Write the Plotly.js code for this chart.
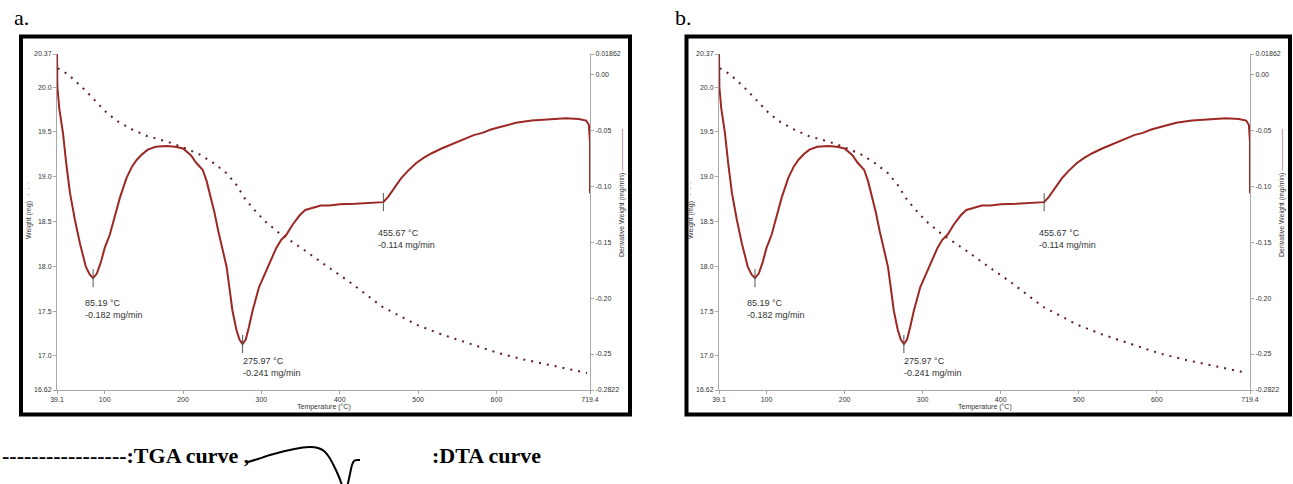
<!DOCTYPE html>
<html><head><meta charset="utf-8">
<script src="https://cdn.plot.ly/plotly-3.0.1.min.js"></script>
<style>body{margin:0;background:#fff}#chart{width:1293px;height:484px}</style>
</head><body><div id="chart"></div>
<script>
// ---- data ----
const tgaTemp   = [40, 47, 56, 70, 80, 90, 103, 118, 134.6, 153.8, 180.5, 199.6, 221, 237.8, 255.6, 268, 278.6, 291, 305, 323, 340, 355, 387, 412, 454, 497.7, 530, 561, 603, 635, 667, 690, 715.6];
const tgaWeight = [20.21, 20.18, 20.12, 20.01, 19.92, 19.83, 19.71, 19.61, 19.53, 19.455, 19.39, 19.33, 19.25, 19.16, 19.04, 18.91, 18.76, 18.63, 18.50, 18.37, 18.27, 18.18, 17.98, 17.83, 17.55, 17.35, 17.24, 17.15, 17.03, 16.96, 16.90, 16.86, 16.81];

const dtaTemp  = [39.1, 39.6, 42, 46.7, 51, 55.7, 62, 68.4, 76, 81, 85.19, 90, 95, 100, 106.6, 113, 119.4, 128, 135, 141, 148, 155, 165, 179, 190, 200, 210, 217, 225, 230, 235, 240, 245, 250, 255.6, 260, 263, 268, 272, 275.97, 280, 284, 288.8, 297, 306.6, 312, 319, 325, 332, 340, 348.6, 356, 365, 376, 386.9, 400, 420, 434, 445, 455.67, 462, 470, 478, 487, 497.7, 508, 518, 530, 539.7, 550, 561, 571, 582, 593, 603.4, 615, 625, 645, 665, 688.8, 705, 714.5, 718, 719.4, 719.4];
const dtaDeriv = [0.0186, -0.011, -0.03, -0.052, -0.08, -0.106, -0.13, -0.151, -0.172, -0.179, -0.182, -0.178, -0.168, -0.155, -0.143, -0.127, -0.110, -0.092, -0.082, -0.076, -0.071, -0.067, -0.0645, -0.0637, -0.0645, -0.066, -0.072, -0.079, -0.085, -0.095, -0.108, -0.123, -0.140, -0.156, -0.172, -0.195, -0.211, -0.228, -0.237, -0.241, -0.237, -0.226, -0.211, -0.19, -0.175, -0.165, -0.155, -0.148, -0.143, -0.134, -0.126, -0.121, -0.119, -0.117, -0.117, -0.116, -0.1155, -0.115, -0.115, -0.114, -0.109, -0.101, -0.093, -0.086, -0.079, -0.074, -0.070, -0.066, -0.063, -0.060, -0.057, -0.054, -0.052, -0.049, -0.047, -0.045, -0.043, -0.041, -0.040, -0.039, -0.0395, -0.041, -0.045, -0.06, -0.106];

const peakTemp   = [85.19, 275.97, 455.67];
const peakDeriv  = [-0.182, -0.241, -0.114];
const peakLabels = ['85.19 °C<br>-0.182 mg/min', '275.97 °C<br>-0.241 mg/min', '455.67 °C<br>-0.114 mg/min'];

const xTickVals = [39.1, 100, 200, 300, 400, 500, 600, 719.4];
const xTickText = ['39.1', '100', '200', '300', '400', '500', '600', '719.4'];
const wTickVals = [16.62, 17.0, 17.5, 18.0, 18.5, 19.0, 19.5, 20.0, 20.37];
const wTickText = ['16.62', '17.0', '17.5', '18.0', '18.5', '19.0', '19.5', '20.0', '20.37'];
const dTickVals = [-0.2822, -0.25, -0.20, -0.15, -0.10, -0.05, 0.00, 0.01862];
const dTickText = ['-0.2822', '-0.25', '-0.20', '-0.15', '-0.10', '-0.05', '0.00', '0.01862'];

const panelLabels = ['a.', 'b.'];
const xTitle = 'Temperature (°C)';
const wTitle = 'Weight (mg)';
const dTitle = 'Derivative Weight (mg/min)';
const legendTGA = '-----------------:TGA curve ,';
const legendDTA = ':DTA curve';
// hand-drawn legend glyph (in its own small box, pixel-like units)
const legendCurveX = [248, 258, 270, 285, 300, 310, 318, 324, 329, 334, 339, 343, null, 347, 350, 352, 354, 357, 360];
const legendCurveY = [462, 459, 455, 451, 448, 447, 448, 451, 457, 466, 477, 488, null, 488, 474, 465, 461, 460, 460];

// ---- layout helpers ----
const W = 1293, H = 484;
const px = v => v / W;
const py = v => 1 - v / H;
const panels = [
  {left: 57, right: 590, fx0: 21, fx1: 630, x: 'x', y: 'y', y2: 'y2', xa: 'xaxis', ya: 'yaxis', ya2: 'yaxis2', lab: 12},
  {left: 719, right: 1250, fx0: 686.5, fx1: 1290, x: 'x2', y: 'y3', y2: 'y4', xa: 'xaxis2', ya: 'yaxis3', ya2: 'yaxis4', lab: 673}
];
const plotTop = 54, plotBottom = 390;
const tgaColor = '#5e1f1f', dtaColor = '#9c2824';
const tickFont = {family: 'Liberation Sans, Arial, sans-serif', size: 7, color: '#333'};
const labelOffsets = [[-10, -18], [-2, -10], [-7, -24]];

const axisBase = {
  showline: true, linecolor: '#a8a8a8', linewidth: 1, ticks: 'outside', ticklen: 3,
  tickcolor: '#a8a8a8', tickwidth: 1, tickfont: tickFont, showgrid: false, zeroline: false,
  tickmode: 'array', fixedrange: true
};

const traces = [];
const layout = {
  width: W, height: H, margin: {l: 0, r: 0, t: 0, b: 0},
  paper_bgcolor: '#fff', plot_bgcolor: 'rgba(0,0,0,0)', showlegend: false,
  shapes: [], annotations: []
};

panels.forEach((p, k) => {
  traces.push({x: tgaTemp, y: tgaWeight, xaxis: p.x, yaxis: p.y, mode: 'lines', type: 'scatter',
    line: {color: tgaColor, width: 2, dash: '2px,6px'}, hoverinfo: 'skip'});
  traces.push({x: dtaTemp, y: dtaDeriv, xaxis: p.x, yaxis: p.y2, mode: 'lines', type: 'scatter',
    line: {color: dtaColor, width: 2}, hoverinfo: 'skip'});
  traces.push({x: peakTemp, y: peakDeriv, xaxis: p.x, yaxis: p.y2, mode: 'markers', type: 'scatter',
    marker: {symbol: 'line-ns-open', size: 13, color: '#555', line: {color: '#555', width: 1}}, hoverinfo: 'skip'});

  const dom = [px(p.left), px(p.right)];
  const ydom = [py(plotBottom), py(plotTop)];
  layout[p.xa] = Object.assign({}, axisBase, {domain: dom, anchor: p.y, range: [39.1, 719.4],
    tickvals: xTickVals, ticktext: xTickText});
  layout[p.ya] = Object.assign({}, axisBase, {domain: ydom, anchor: p.x, side: 'left', range: [16.62, 20.37],
    tickvals: wTickVals, ticktext: wTickText});
  layout[p.ya2] = Object.assign({}, axisBase, {anchor: p.x, overlaying: p.y, side: 'right',
    range: [-0.2822, 0.01862], tickvals: dTickVals, ticktext: dTickText});

  // frame
  layout.shapes.push({type: 'rect', xref: 'paper', yref: 'paper', x0: px(p.fx0), x1: px(p.fx1),
    y0: py(414.5), y1: py(36.5), line: {color: '#000', width: 4}});

  // panel label
  layout.annotations.push({xref: 'paper', yref: 'paper', x: px(p.lab), y: py(18), xanchor: 'left', yanchor: 'middle',
    text: panelLabels[k], showarrow: false,
    font: {family: 'Liberation Serif, Times New Roman, serif', size: 22, color: '#000'}});

  // axis titles
  layout.annotations.push({xref: 'paper', yref: 'paper', x: px((p.left + p.right) / 2), y: py(407),
    xanchor: 'center', yanchor: 'middle', text: xTitle, showarrow: false, font: tickFont});
  layout.annotations.push({xref: 'paper', yref: 'paper', x: px(p.left - 28), y: py(211),
    xanchor: 'center', yanchor: 'middle', textangle: -90, showarrow: false, font: tickFont,
    text: wTitle + ' <span style="color:' + tgaColor + '">\u2002·\u2002·\u2002·</span>'});
  layout.annotations.push({xref: 'paper', yref: 'paper', x: px(p.fx1 - 8), y: py(193),
    xanchor: 'center', yanchor: 'middle', textangle: -90, showarrow: false, font: tickFont,
    text: dTitle + ' <span style="color:' + dtaColor + '">——————</span>'});

  // peak labels
  peakTemp.forEach((t, i) => {
    layout.annotations.push({xref: p.x, yref: p.y2, x: t, y: peakDeriv[i], xanchor: 'left', yanchor: 'top',
      xshift: labelOffsets[i][0], yshift: labelOffsets[i][1], align: 'left', showarrow: false,
      text: peakLabels[i], font: {family: 'Liberation Sans, Arial, sans-serif', size: 9, color: '#333'}});
  });
});

// legend glyph axes
traces.push({x: legendCurveX, y: legendCurveY, xaxis: 'x3', yaxis: 'y5', mode: 'lines', type: 'scatter',
  connectgaps: false, line: {color: '#000', width: 2, shape: 'spline', smoothing: 0.8}, hoverinfo: 'skip'});
layout.xaxis3 = {domain: [px(240), px(370)], range: [240, 370], visible: false, fixedrange: true, anchor: 'y5'};
layout.yaxis5 = {domain: [0, py(440)], range: [484, 440], visible: false, fixedrange: true, anchor: 'x3'};

const legendFont = {family: 'Liberation Serif, Times New Roman, serif', size: 22, color: '#000'};
layout.annotations.push({xref: 'paper', yref: 'paper', x: 0, y: py(455), xanchor: 'left', yanchor: 'middle',
  text: '<b>' + legendTGA + '</b>', showarrow: false, font: legendFont});
layout.annotations.push({xref: 'paper', yref: 'paper', x: px(430), y: py(455), xanchor: 'left', yanchor: 'middle',
  text: '<b>' + legendDTA + '</b>', showarrow: false, font: legendFont});

Plotly.newPlot('chart', traces, layout, {displayModeBar: false, staticPlot: true});
</script>
</body></html>
